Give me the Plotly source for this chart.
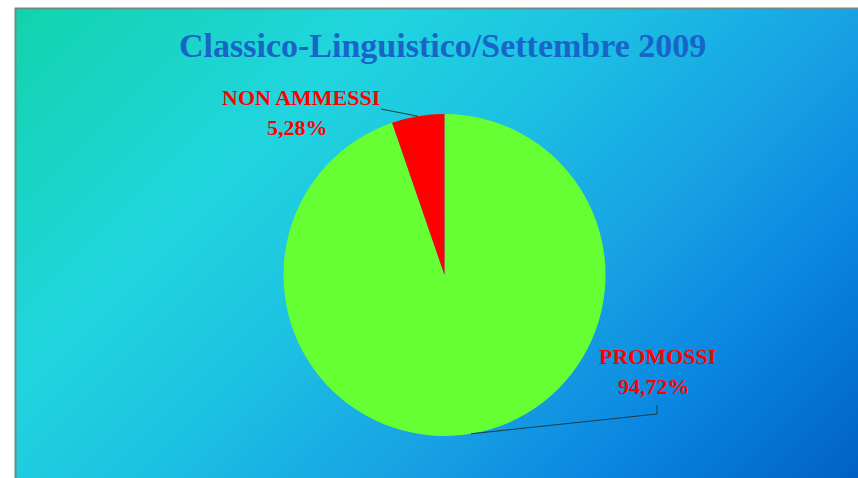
import base64
import math
import plotly.graph_objects as go

# ---- data ----
labels = ["PROMOSSI", "NON AMMESSI"]
values = [94.72, 5.28]
pct_text = ["94,72%", "5,28%"]
colors = ["#66ff33", "#ff0000"]
title_text = "Classico-Linguistico/Settembre 2009"

SW, SH = 858, 478  # screen size
W, H = SW, SH

# pie geometry (screen pixels)
cx, cy, R = 444.5, 275.0, 161.0


def px(x):
    return x / W


def py(y):
    return 1 - y / H


dom_x = [px(cx - R), px(cx + R)]
dom_y = [py(cy + R), py(cy - R)]


def edge_point(i):
    total = sum(values)
    before = sum(values[:i])
    mid = (before + values[i] / 2) / total * 2 * math.pi
    # clockwise from 12 o'clock, y down in pixels
    return cx + R * math.sin(mid), cy - R * math.cos(mid)


# background gradient as svg (diagonal, 45 degrees in pixel space)
svg = """<svg xmlns='http://www.w3.org/2000/svg' width='843' height='470' viewBox='0 0 843 470' preserveAspectRatio='none'>
<defs><linearGradient id='g' gradientUnits='userSpaceOnUse' x1='0' y1='0' x2='656.5' y2='656.5'>
<stop offset='0' stop-color='#12d3ac'/>
<stop offset='0.28' stop-color='#21d5de'/>
<stop offset='0.45' stop-color='#1cc2e2'/>
<stop offset='0.64' stop-color='#18a2e4'/>
<stop offset='0.8' stop-color='#0a86e0'/>
<stop offset='1' stop-color='#0060c4'/>
</linearGradient></defs>
<rect x='0' y='0' width='843' height='470' fill='url(#g)'/>
</svg>"""
src = "data:image/svg+xml;base64," + base64.b64encode(svg.encode()).decode()

fig = go.Figure()
fig.add_trace(go.Pie(
    labels=labels, values=values, sort=False, direction="clockwise",
    rotation=0, marker=dict(colors=colors, line=dict(width=0)),
    textinfo="none", hoverinfo="label+percent", showlegend=False,
    domain=dict(x=dom_x, y=dom_y),
))

fig.add_layout_image(dict(
    source=src, xref="paper", yref="paper", x=px(15), y=py(8),
    sizex=px(SW + 2) - px(15), sizey=py(8) - py(SH + 2), xanchor="left", yanchor="top",
    sizing="stretch", layer="below",
))

font_serif = "Liberation Serif, Times New Roman, serif"
red = "#ff0000"
annotations = [
    dict(text=f"<b>{title_text}</b>", x=px(442), y=py(46), xref="paper", yref="paper",
         showarrow=False, xanchor="center", yanchor="middle",
         font=dict(family=font_serif, size=34, color="#1865ca")),
    dict(text=f"<b>{labels[1]}</b>", x=px(301), y=py(97), xref="paper", yref="paper",
         showarrow=False, xanchor="center", yanchor="middle",
         font=dict(family=font_serif, size=22, color=red)),
    dict(text=f"<b>{pct_text[1]}</b>", x=px(297), y=py(127), xref="paper", yref="paper",
         showarrow=False, xanchor="center", yanchor="middle",
         font=dict(family=font_serif, size=22, color=red)),
    dict(text=f"<b>{labels[0]}</b>", x=px(657), y=py(356), xref="paper", yref="paper",
         showarrow=False, xanchor="center", yanchor="middle",
         font=dict(family=font_serif, size=22, color=red)),
    dict(text=f"<b>{pct_text[0]}</b>", x=px(654), y=py(386), xref="paper", yref="paper",
         showarrow=False, xanchor="center", yanchor="middle",
         font=dict(family=font_serif, size=22, color=red)),
]

e_prom = edge_point(0)
e_non = edge_point(1)
line_style = dict(color="#1b3b48", width=1)
shapes = [
    # frame
    dict(type="rect", xref="paper", yref="paper", x0=px(15.5), y0=py(8.5), x1=px(SW + 30),
         y1=py(SH + 30), line=dict(color="#6e8b8b", width=2), fillcolor="rgba(0,0,0,0)"),
    # leader lines
    dict(type="line", xref="paper", yref="paper", x0=px(e_non[0]), y0=py(e_non[1]),
         x1=px(381), y1=py(109), line=line_style),
    dict(type="path", xref="paper", yref="paper",
         path=f"M {px(e_prom[0])},{py(e_prom[1])} L {px(657)},{py(414)} L {px(657)},{py(405)}",
         line=line_style),
]

fig.update_layout(
    width=W, height=H, margin=dict(l=0, r=0, t=0, b=0),
    paper_bgcolor="white", plot_bgcolor="white",
    annotations=annotations, shapes=shapes,
)

fig.write_html(
    "out.html",
    config={"displayModeBar": False},
    post_script="document.body.style.margin='0';document.body.style.overflow='hidden';",
)
